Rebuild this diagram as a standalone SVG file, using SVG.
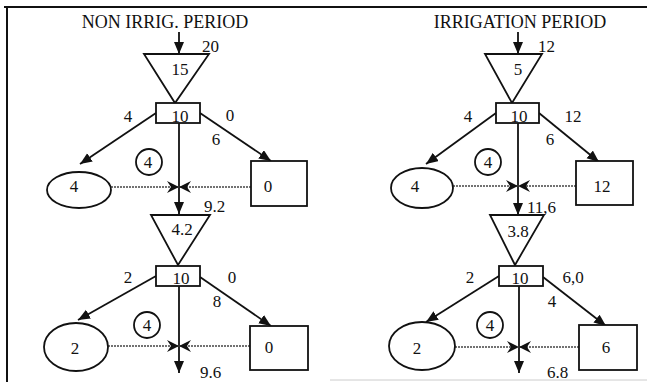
<svg xmlns="http://www.w3.org/2000/svg" width="647" height="382" viewBox="0 0 647 382">
<style>
  text{font-family:"Liberation Serif","Times New Roman",serif;font-size:17px;fill:#111;text-anchor:middle}
  .title{font-size:18px}
  .st{text-anchor:start}
  .shape{fill:#fff;stroke:#111;stroke-width:1.8}
  .ln{stroke:#111;stroke-width:1.8;fill:none}
  .dot{stroke:#444;stroke-width:1.3;stroke-dasharray:2 1;fill:none}
</style>
<defs>
  <marker id="ah" markerUnits="userSpaceOnUse" markerWidth="13" markerHeight="11" refX="12" refY="5" orient="auto">
    <path d="M0,0 L12,5 L0,10 z" fill="#111"/>
  </marker>
  <marker id="sh" markerUnits="userSpaceOnUse" markerWidth="13" markerHeight="13" refX="12" refY="6" orient="auto">
    <path d="M0,0 L12,6 L0,12 L4,6 z" fill="#111"/>
  </marker>
</defs>
<rect width="647" height="382" fill="#fff"/>
<g id="frame">
  <line x1="4" y1="7" x2="647" y2="7" stroke="#111" stroke-width="2"/>
  <line x1="7" y1="7" x2="7" y2="382" stroke="#111" stroke-width="2"/>
  <line x1="330" y1="380" x2="647" y2="380" stroke="#ccc" stroke-width="1"/>
</g>
<text class="title" x="165" y="28">NON IRRIG. PERIOD</text>
<text class="title" x="520" y="28">IRRIGATION PERIOD</text>

<g id="connectors">
  <line class="ln" x1="179" y1="32" x2="179" y2="54" marker-end="url(#ah)"/>
  <line class="ln" x1="156" y1="113" x2="80" y2="164" marker-end="url(#ah)"/>
  <line class="ln" x1="200" y1="113" x2="271" y2="161" marker-end="url(#ah)"/>
  <line class="ln" x1="179" y1="123" x2="179" y2="214" marker-end="url(#ah)"/>
  <line class="dot" x1="111" y1="187" x2="179" y2="187" marker-end="url(#sh)"/>
  <line class="dot" x1="251" y1="187" x2="179" y2="187" marker-end="url(#sh)"/>
  <line class="ln" x1="156" y1="276" x2="78" y2="320" marker-end="url(#ah)"/>
  <line class="ln" x1="200" y1="277" x2="271" y2="326" marker-end="url(#ah)"/>
  <line class="ln" x1="179" y1="286" x2="179" y2="373" marker-end="url(#ah)"/>
  <line class="dot" x1="108" y1="346" x2="179" y2="346" marker-end="url(#sh)"/>
  <line class="dot" x1="250" y1="346" x2="179" y2="346" marker-end="url(#sh)"/>
  <line class="ln" x1="518" y1="32" x2="518" y2="54" marker-end="url(#ah)"/>
  <line class="ln" x1="496" y1="113" x2="426" y2="164" marker-end="url(#ah)"/>
  <line class="ln" x1="539" y1="113" x2="599" y2="162" marker-end="url(#ah)"/>
  <line class="ln" x1="518" y1="123" x2="518" y2="215" marker-end="url(#ah)"/>
  <line class="dot" x1="453" y1="186" x2="518" y2="186" marker-end="url(#sh)"/>
  <line class="dot" x1="576" y1="186" x2="518" y2="186" marker-end="url(#sh)"/>
  <line class="ln" x1="499" y1="276" x2="426" y2="322" marker-end="url(#ah)"/>
  <line class="ln" x1="543" y1="277" x2="606" y2="326" marker-end="url(#ah)"/>
  <line class="ln" x1="519" y1="286" x2="519" y2="373" marker-end="url(#ah)"/>
  <line class="dot" x1="455" y1="347" x2="519" y2="347" marker-end="url(#sh)"/>
  <line class="dot" x1="579" y1="347" x2="519" y2="347" marker-end="url(#sh)"/>
</g>

<g id="connector-labels">
  <text class="st" x="202" y="52">20</text>
  <text x="128" y="122">4</text>
  <text x="230" y="121">0</text>
  <text x="216" y="145">6</text>
  <text class="st" x="204" y="212">9.2</text>
  <text x="128" y="283">2</text>
  <text x="232" y="283">0</text>
  <text x="217" y="307">8</text>
  <text class="st" x="200" y="378">9.6</text>
  <text class="st" x="538" y="52">12</text>
  <text x="468" y="122">4</text>
  <text x="573" y="122">12</text>
  <text x="550" y="145">6</text>
  <text class="st" x="527" y="213">11,6</text>
  <text x="470" y="283">2</text>
  <text x="573" y="283">6,0</text>
  <text x="552" y="307">4</text>
  <text class="st" x="547" y="378">6.8</text>
</g>

<g id="L-tri1"><polygon class="shape" points="144,54 209,54 175,103"/><text x="180" y="75">15</text></g>
<g id="L-rect1"><rect class="shape" x="156" y="103" width="44" height="20"/><text x="180" y="122">10</text></g>
<g id="L-ell1"><ellipse class="shape" cx="79" cy="190" rx="32" ry="18"/><text x="74" y="192">4</text></g>
<g id="L-box1"><rect class="shape" x="251" y="161" width="56" height="45"/><text x="268" y="192">0</text></g>
<g id="L-circ1"><circle class="shape" cx="149" cy="162" r="13"/><text x="148" y="168">4</text></g>
<g id="L-tri2"><polygon class="shape" points="151,215 210,215 178,265"/><text x="182" y="235">4.2</text></g>
<g id="L-rect2"><rect class="shape" x="156" y="266" width="44" height="20"/><text x="181" y="284">10</text></g>
<g id="L-ell2"><ellipse class="shape" cx="76" cy="347" rx="32" ry="24"/><text x="75" y="354">2</text></g>
<g id="L-box2"><rect class="shape" x="250" y="326" width="58" height="44"/><text x="269" y="353">0</text></g>
<g id="L-circ2"><circle class="shape" cx="147" cy="325" r="13"/><text x="147" y="331">4</text></g>

<g id="R-tri1"><polygon class="shape" points="485,54 542,54 512,103"/><text x="518" y="75">5</text></g>
<g id="R-rect1"><rect class="shape" x="496" y="103" width="43" height="20"/><text x="519" y="122">10</text></g>
<g id="R-ell1"><ellipse class="shape" cx="422" cy="188" rx="31" ry="20"/><text x="415" y="192">4</text></g>
<g id="R-box1"><rect class="shape" x="576" y="161" width="57" height="44"/><text x="602" y="192">12</text></g>
<g id="R-circ1"><circle class="shape" cx="488" cy="162" r="13"/><text x="488" y="168">4</text></g>
<g id="R-tri2"><polygon class="shape" points="490,215 544,215 515,265"/><text x="518" y="237">3.8</text></g>
<g id="R-rect2"><rect class="shape" x="499" y="266" width="44" height="20"/><text x="520" y="284">10</text></g>
<g id="R-ell2"><ellipse class="shape" cx="422" cy="346" rx="33" ry="24"/><text x="417" y="354">2</text></g>
<g id="R-box2"><rect class="shape" x="579" y="325" width="58" height="45"/><text x="606" y="353">6</text></g>
<g id="R-circ2"><circle class="shape" cx="490" cy="325" r="13"/><text x="490" y="331">4</text></g>
</svg>
